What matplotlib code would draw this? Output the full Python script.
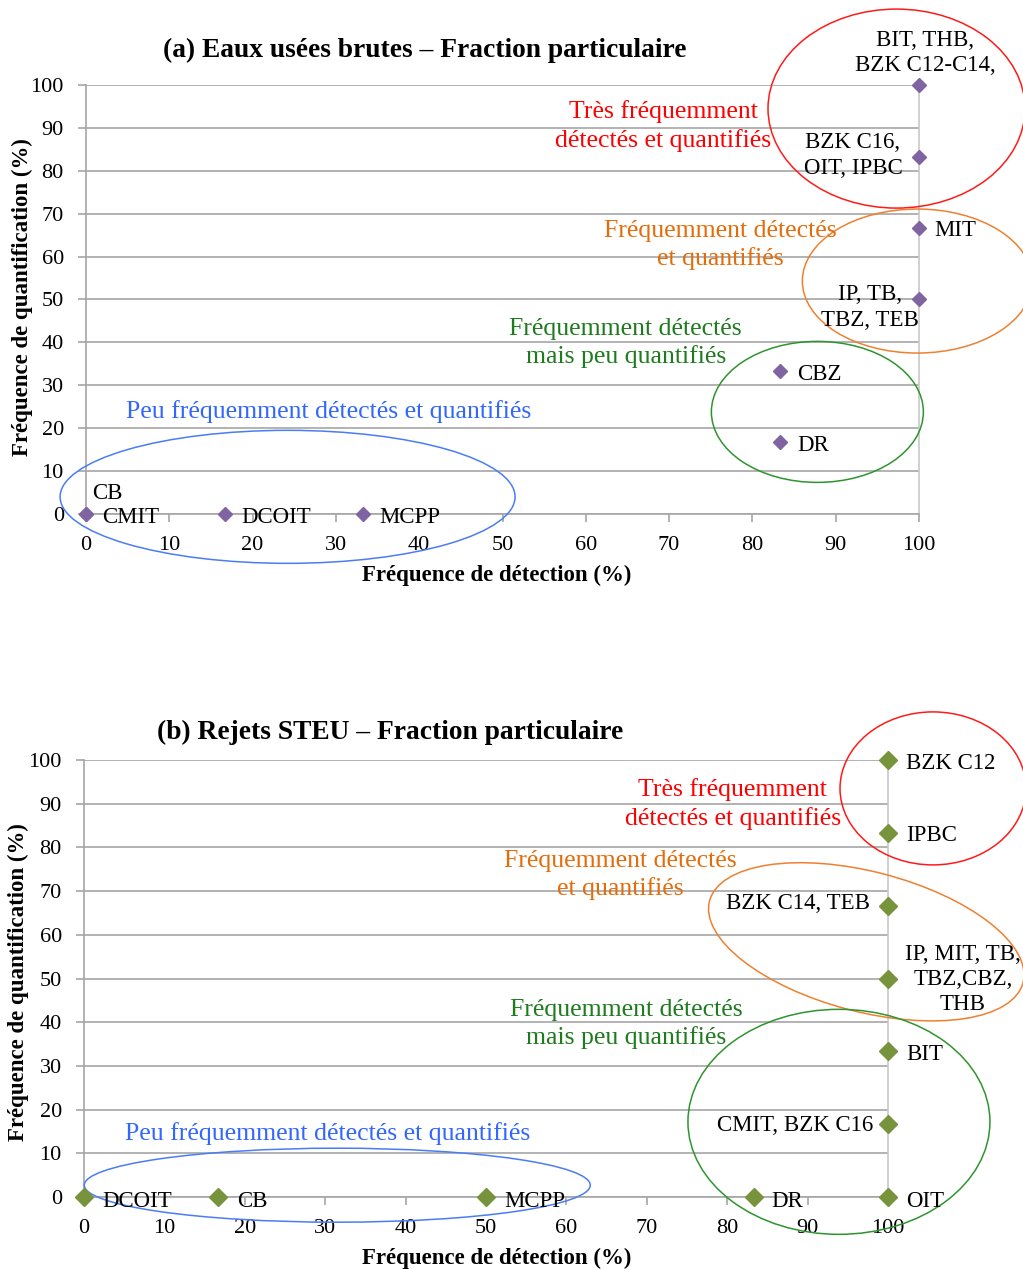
import matplotlib.pyplot as plt
from matplotlib.patches import Ellipse
from matplotlib.transforms import ScaledTranslation

plt.rcParams['font.family'] = ['Liberation Serif', 'DejaVu Serif']

# (a) Eaux usées brutes
a_x = [0, 0, 16.7, 33.3, 83.3, 83.3, 100, 100, 100, 100]
a_y = [0, 0, 0, 0, 33.3, 16.7, 100, 83.3, 66.7, 50]
a_names = ["CB", "CMIT", "DCOIT", "MCPP", "CBZ", "DR",
           "BIT, THB,\nBZK C12-C14,", "BZK C16,\nOIT, IPBC", "MIT", "IP, TB,\nTBZ, TEB"]

# (b) Rejets STEU
b_x = [0, 16.7, 50, 83.3, 100, 100, 100, 100, 100, 100, 100]
b_y = [0, 0, 0, 0, 0, 16.7, 33.3, 50, 66.7, 83.3, 100]
b_names = ["DCOIT", "CB", "MCPP", "DR", "OIT", "CMIT, BZK C16", "BIT",
           "IP, MIT, TB,\nTBZ,CBZ,\nTHB", "BZK C14, TEB", "IPBC", "BZK C12"]

ticks = [0, 10, 20, 30, 40, 50, 60, 70, 80, 90, 100]

groups = ["Très fréquemment\ndétectés et quantifiés",
          "Fréquemment détectés\net quantifiés",
          "Fréquemment détectés\nmais peu quantifiés",
          "Peu fréquemment détectés et quantifiés"]
text_colors = ["#FF0000", "#E46C0A", "#1E7B1E", "#3366FF"]
ring_colors = ["#FF1A1A", "#EE8030", "#2E952E", "#4A7DF5"]

# label placement: (dx px, dy px, ha, va)
a_off = [(6, 10, 'left', 'bottom'), (16, -4, 'left', 'center'), (16, -4, 'left', 'center'),
         (16, -4, 'left', 'center'), (17, -3, 'left', 'center'), (17, -3, 'left', 'center'),
         (6, 9, 'center', 'bottom'), (-66, 1, 'center', 'center'), (15, -3, 'left', 'center'),
         (-49, -8, 'center', 'center')]
b_off = [(18, -4, 'left', 'center'), (19, -4, 'left', 'center'), (18, -4, 'left', 'center'),
         (18, -4, 'left', 'center'), (18, -4, 'left', 'center'), (-15, -1, 'right', 'center'),
         (18, -3, 'left', 'center'), (75, -1, 'center', 'center'), (-18, 2, 'right', 'center'),
         (18, -3, 'left', 'center'), (18, -3, 'left', 'center')]

# ellipses: centre (data), width/height (px), angle
a_rings = [((97.3, 94.5), 257, 199, 0), ((99.8, 54.3), 230, 144, 0),
           ((87.8, 23.8), 212, 141, 0), ((24.2, 4.0), 455, 133, 0)]
b_rings = [((105.6, 93.5), 186, 153, 0), ((97.3, 58.4), 324, 140, -14.6),
           ((93.9, 17.2), 302, 225, 0), ((31.5, 2.7), 506, 74, 0)]

a_group_pos = [(69.3, 90.4), (76.1, 62.7), (64.8, 39.9), (29.1, 24.0)]
b_group_pos = [(80.7, 89.9), (66.7, 73.7), (67.4, 39.6), (30.3, 14.6)]

fig = plt.figure(figsize=(10.23, 12.70), dpi=100)


def panel(rect, xs, ys, names, offs, color, ms, rings, gpos):
    ax = fig.add_axes(rect)
    ax.set_xlim(0, 100)
    ax.set_ylim(0, 100)
    ax.set_xticks(ticks)
    ax.set_yticks(ticks)
    ax.grid(axis='y', color='#A6A6A6', lw=1.2)
    ax.set_axisbelow(True)
    ax.spines['top'].set_visible(False)
    ax.spines['right'].set_color('#C8C8C8')
    ax.spines['left'].set_color('#A6A6A6')
    ax.spines['bottom'].set_color('#A6A6A6')
    for s in ax.spines.values():
        s.set_linewidth(1.2)
    ax.tick_params(direction='out', length=6, width=1.2, color='#A6A6A6',
                   labelsize=16, pad=10)
    ax.tick_params(axis='y', right=False)
    ax.plot(xs, ys, 'D', color=color, ms=ms, mec=color, clip_on=False, zorder=5)
    for x, y, n, (dx, dy, ha, va) in zip(xs, ys, names, offs):
        ax.annotate(n, (x, y), xytext=(dx, dy), textcoords='offset pixels',
                    ha=ha, va=va, multialignment='center', fontsize=16.5,
                    linespacing=1.28, zorder=6, annotation_clip=False)
    for (c, w, h, ang), col in zip(rings, ring_colors):
        tr = fig.dpi_scale_trans + ScaledTranslation(c[0], c[1], ax.transData)
        ax.add_patch(Ellipse((0, 0), w / 100, h / 100, angle=ang, transform=tr,
                             fill=False, ec=col, lw=1.1, clip_on=False, zorder=4))
    for g, (gx, gy), col in zip(groups, gpos, text_colors):
        ax.text(gx, gy, g, color=col, fontsize=18.5, ha='center', va='center',
                linespacing=1.3, zorder=6)
    return ax


panel([0.08407, 0.59528, 0.81427, 0.33780], a_x, a_y, a_names, a_off,
      '#8064A2', 7.0, a_rings, a_group_pos)
panel([0.08211, 0.05748, 0.78592, 0.34409], b_x, b_y, b_names, b_off,
      '#77933C', 8.7, b_rings, b_group_pos)

fig.text(0.4155, 0.9605, "(a) Eaux usées brutes – Fraction particulaire",
         ha='center', va='center', fontsize=19.8, fontweight='bold')
fig.text(0.381, 0.4235, "(b) Rejets STEU – Fraction particulaire",
         ha='center', va='center', fontsize=19.8, fontweight='bold')
fig.text(0.486, 1 - 575 / 1270, "Fréquence de détection (%)",
         ha='center', va='center', fontsize=16.5, fontweight='bold')
fig.text(0.486, 1 - 1258 / 1270, "Fréquence de détection (%)",
         ha='center', va='center', fontsize=16.5, fontweight='bold')
fig.text(22 / 1023, 1 - 297 / 1270, "Fréquence de quantification (%)", rotation=90,
         ha='center', va='center', fontsize=16.5, fontweight='bold')
fig.text(18 / 1023, 1 - 982 / 1270, "Fréquence de quantification (%)", rotation=90,
         ha='center', va='center', fontsize=16.5, fontweight='bold')

fig.savefig('out.png', dpi=100)
